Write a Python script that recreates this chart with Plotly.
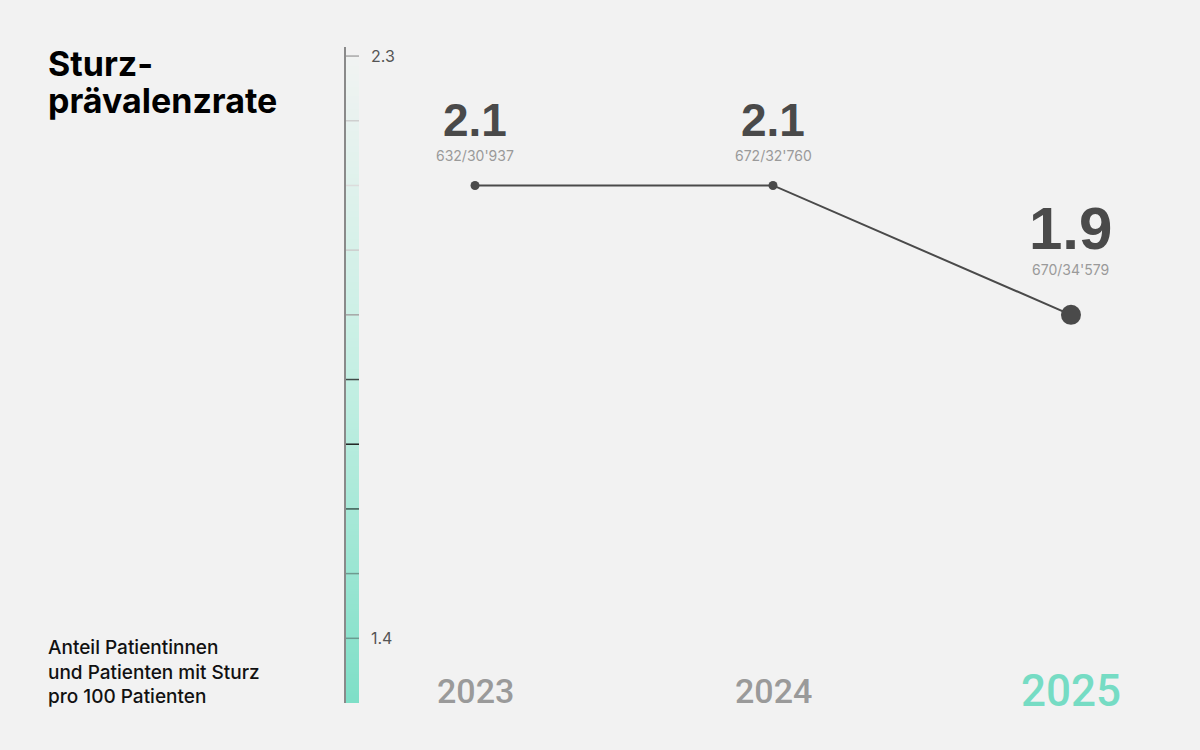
import plotly.graph_objects as go
import numpy as np

# ---- data ----
years = ["2023", "2024", "2025"]
rates = [2.1, 2.1, 1.9]
rate_labels = ["2.1", "2.1", "1.9"]
counts = ["632/30'937", "672/32'760", "670/34'579"]
tick_vals = [2.3, 2.2, 2.1, 2.0, 1.9, 1.8, 1.7, 1.6, 1.5, 1.4]
tick_text = ["2.3", "", "", "", "", "", "", "", "", "1.4"]

# ---- styles ----
tick_colors = ["#a8a8a8", "#cfcfcf", "#dcdcdc", "#cdcdcd", "#a5a5a5",
               "#3f4a47", "#1f2322", "#3d5a52", "#6f9a8f", "#6b9a8f"]
year_colors = ["#9a9a9a", "#9a9a9a", "#76dcc4"]
year_sizes = [34, 34, 44]
value_sizes = [46, 46, 60]
value_shift = [65, 65, 86]
count_shift = [30, 30, 45]
marker_sizes = [9, 9, 20]

W, H = 1200, 750
L, R, T, B = 346, 0, 47, 47
PW = W - L - R
PH = H - T - B


def px_x(px):
    return (px - L) / PW


def px_y(py):
    return (H - B - py) / PH


BG = "#f2f2f2"
DARK = "#4a4a4a"
FONT = "Liberation Sans, Arial, sans-serif"
SANS = "Inter, Liberation Sans, sans-serif"
YEARF = "Roboto, Liberation Sans, sans-serif"

x = list(range(len(years)))

fig = go.Figure()

# gradient bar beside the axis (decoration)
grad_y = np.linspace(1.3, 2.3, 300)
fig.add_trace(go.Heatmap(
    x=[0], y=grad_y, z=[[v] for v in grad_y], xaxis="x2", yaxis="y",
    colorscale=[[0, "#7edfc7"], [0.5, "#c4efe3"], [1, "#f1f3f2"]],
    showscale=False, hoverinfo="skip"))

fig.add_trace(go.Scatter(
    x=x, y=rates, mode="lines+markers",
    line=dict(color=DARK, width=2),
    marker=dict(size=marker_sizes, color=DARK, opacity=1, line=dict(width=0)),
    hoverinfo="skip", showlegend=False))

ann = []
for i in range(len(years)):
    ann.append(dict(x=x[i], y=rates[i], xref="x", yref="y", text=rate_labels[i],
                    showarrow=False, yshift=value_shift[i], yanchor="middle",
                    font=dict(family=FONT, size=value_sizes[i], color=DARK, weight="bold")))
    ann.append(dict(x=x[i], y=rates[i], xref="x", yref="y", text=counts[i],
                    showarrow=False, yshift=count_shift[i], yanchor="middle",
                    font=dict(family=SANS, size=14, color="#9a9a9a")))
    ann.append(dict(x=x[i], y=0, xref="x", yref="paper", text=years[i],
                    showarrow=False, yshift=12, yanchor="middle",
                    font=dict(family=YEARF, size=year_sizes[i], color=year_colors[i],
                              weight=500)))

# axis tick labels (drawn to the right of the axis line)
for tv, tt in zip(tick_vals, tick_text):
    if tt:
        ann.append(dict(x=px_x(369), y=tv, xref="paper", yref="y", text=tt,
                        showarrow=False, xanchor="left", yanchor="middle",
                        font=dict(family=SANS, size=16, color="#555")))

ann.append(dict(x=px_x(46), y=px_y(64), xref="paper", yref="paper", text="Sturz-",
                showarrow=False, xanchor="left", yanchor="middle",
                font=dict(family=SANS, size=34, color="#000", weight="bold")))
ann.append(dict(x=px_x(46), y=px_y(100), xref="paper", yref="paper", text="prävalenzrate",
                showarrow=False, xanchor="left", yanchor="middle",
                font=dict(family=SANS, size=34, color="#000", weight="bold")))
ann.append(dict(x=px_x(46), y=px_y(672), xref="paper", yref="paper",
                text="Anteil Patientinnen<br>und Patienten mit Sturz<br>pro 100 Patienten",
                showarrow=False, xanchor="left", yanchor="middle", align="left",
                font=dict(family=SANS, size=19, color="#111", weight=500)))

shapes = []
for tv, tc in zip(tick_vals, tick_colors):
    shapes.append(dict(type="line", xref="x2 domain", yref="y", x0=0, x1=1, y0=tv, y1=tv,
                       line=dict(color=tc, width=1.5)))

fig.update_layout(
    width=W, height=H,
    margin=dict(l=L, r=R, t=T, b=B),
    paper_bgcolor=BG, plot_bgcolor=BG,
    showlegend=False,
    xaxis=dict(range=[-0.433, 2.433], visible=False, domain=[0, 1]),
    xaxis2=dict(domain=[0, 13 / PW], range=[-0.5, 0.5], visible=False, anchor="y"),
    yaxis=dict(range=[1.3, 2.314], showline=True, linecolor="#8a8a8a", linewidth=2,
               showgrid=False, zeroline=False, ticks="", showticklabels=False,
               tickvals=tick_vals),
    annotations=ann, shapes=shapes,
)

fig.write_html("out.html")
